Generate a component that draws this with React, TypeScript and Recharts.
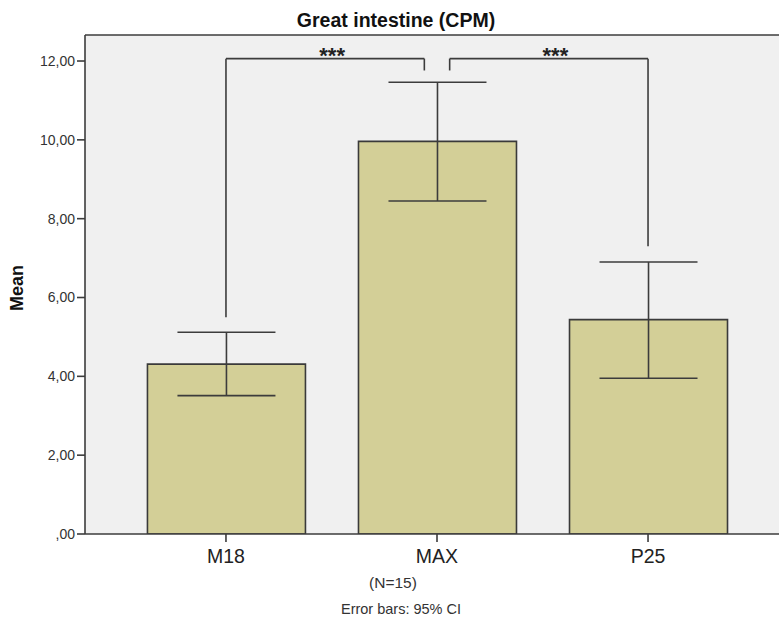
import React from 'react';
import {
  ComposedChart,
  Bar,
  ErrorBar,
  XAxis,
  YAxis,
  CartesianGrid,
  ReferenceLine,
  ReferenceDot,
} from 'recharts';

const categories = ['M18', 'MAX', 'P25'];
const means = [4.31, 9.96, 5.44];
const ciLow = [3.51, 8.45, 3.95];
const ciHigh = [5.12, 11.46, 6.9];
const yTicks = [0, 2, 4, 6, 8, 10, 12];
const xTicks = [0, 1, 2];

// significance brackets (data space: x = category index, y = value)
const bracketTop = 12.06;
const bracketInnerBottom = 11.76;
const bracketOuterBottoms = [5.5, 7.3];
const bracketOuterX = [0, 2];
const bracketInnerX = [0.94, 1.06];
const starsX = [0.503, 1.561];
const starsY = 12.15;
const starsText = '***';

const Y_MAX = 12.66;
const X_DOMAIN: [number, number] = [-0.668, 2.668];

const data = categories.map((c, i) => ({
  x: i,
  name: c,
  mean: means[i],
  err: [means[i] - ciLow[i], ciHigh[i] - means[i]],
}));

const FONT = '"Liberation Sans", Arial, Helvetica, sans-serif';
const LINE = '#3c3c3c';

const fmtY = (v: number) => (v === 0 ? ',00' : v.toFixed(2).replace('.', ','));

export default function App() {
  const segStyle = { stroke: LINE, strokeWidth: 1.6, ifOverflow: 'visible' as const };
  return (
    <div
      style={{
        position: 'absolute',
        left: 0,
        top: 0,
        width: 779,
        height: 624,
        overflow: 'hidden',
        background: '#ffffff',
        fontFamily: FONT,
      }}
    >
      <ComposedChart
        width={800}
        height={624}
        data={data}
        margin={{ top: 35, right: 11, bottom: 0, left: 0 }}
      >
        <CartesianGrid fill="#f0f0f0" horizontal={false} vertical={false} />
        <XAxis
          dataKey="x"
          type="number"
          domain={X_DOMAIN}
          allowDataOverflow
          ticks={xTicks}
          interval={0}
          tickFormatter={(v: number) => categories[v] ?? ''}
          height={90}
          tickSize={8}
          tickMargin={7}
          axisLine={{ stroke: LINE, strokeWidth: 1.6 }}
          tickLine={{ stroke: LINE, strokeWidth: 1.6 }}
          tick={{ fill: '#222', fontSize: 19.5, fontFamily: FONT }}
        />
        <YAxis
          type="number"
          domain={[0, Y_MAX]}
          allowDataOverflow
          ticks={yTicks}
          interval={0}
          tickFormatter={fmtY}
          width={85}
          tickSize={8}
          tickMargin={2}
          axisLine={{ stroke: LINE, strokeWidth: 1.6 }}
          tickLine={{ stroke: LINE, strokeWidth: 1.6 }}
          tick={{ fill: '#333', fontSize: 14, fontFamily: FONT }}
        />
        <ReferenceLine y={Y_MAX} stroke={LINE} strokeWidth={1.6} ifOverflow="visible" />
        <Bar
          dataKey="mean"
          fill="#d3cf97"
          stroke="#3a3a3a"
          strokeWidth={1.6}
          barSize={158}
          isAnimationActive={false}
        >
          <ErrorBar
            dataKey="err"
            direction="y"
            width={49}
            stroke={LINE}
            strokeWidth={1.6}
            isAnimationActive={false}
          />
        </Bar>
        {/* left bracket */}
        <ReferenceLine
          segment={[
            { x: bracketOuterX[0], y: bracketOuterBottoms[0] },
            { x: bracketOuterX[0], y: bracketTop },
          ]}
          {...segStyle}
        />
        <ReferenceLine
          segment={[
            { x: bracketOuterX[0], y: bracketTop },
            { x: bracketInnerX[0], y: bracketTop },
          ]}
          {...segStyle}
        />
        <ReferenceLine
          segment={[
            { x: bracketInnerX[0], y: bracketTop },
            { x: bracketInnerX[0], y: bracketInnerBottom },
          ]}
          {...segStyle}
        />
        {/* right bracket */}
        <ReferenceLine
          segment={[
            { x: bracketInnerX[1], y: bracketInnerBottom },
            { x: bracketInnerX[1], y: bracketTop },
          ]}
          {...segStyle}
        />
        <ReferenceLine
          segment={[
            { x: bracketInnerX[1], y: bracketTop },
            { x: bracketOuterX[1], y: bracketTop },
          ]}
          {...segStyle}
        />
        <ReferenceLine
          segment={[
            { x: bracketOuterX[1], y: bracketTop },
            { x: bracketOuterX[1], y: bracketOuterBottoms[1] },
          ]}
          {...segStyle}
        />
        {starsX.map((sx, i) => (
          <ReferenceDot
            key={i}
            x={sx}
            y={starsY}
            r={0}
            fill="none"
            stroke="none"
            ifOverflow="visible"
            label={{
              value: starsText,
              position: 'center',
              fontSize: 22,
              fontWeight: 'bold',
              fill: '#222',
              fontFamily: FONT,
            }}
          />
        ))}
      </ComposedChart>

      <div
        style={{
          position: 'absolute',
          left: 396,
          top: 10.5,
          transform: 'translateX(-50%)',
          whiteSpace: 'nowrap',
          fontSize: 19.5,
          lineHeight: '19.5px',
          fontWeight: 'bold',
          color: '#111',
        }}
      >
        Great intestine (CPM)
      </div>
      <div
        style={{
          position: 'absolute',
          left: 17,
          top: 288,
          transform: 'translate(-50%, -50%) rotate(-90deg)',
          whiteSpace: 'nowrap',
          fontSize: 18,
          lineHeight: '18px',
          fontWeight: 'bold',
          color: '#111',
        }}
      >
        Mean
      </div>
      <div
        style={{
          position: 'absolute',
          left: 393,
          top: 575,
          transform: 'translateX(-50%)',
          whiteSpace: 'nowrap',
          fontSize: 15.5,
          lineHeight: '15.5px',
          color: '#333',
        }}
      >
        (N=15)
      </div>
      <div
        style={{
          position: 'absolute',
          left: 401,
          top: 602,
          transform: 'translateX(-50%)',
          whiteSpace: 'nowrap',
          fontSize: 14.5,
          lineHeight: '14.5px',
          color: '#333',
        }}
      >
        Error bars: 95% CI
      </div>
    </div>
  );
}
